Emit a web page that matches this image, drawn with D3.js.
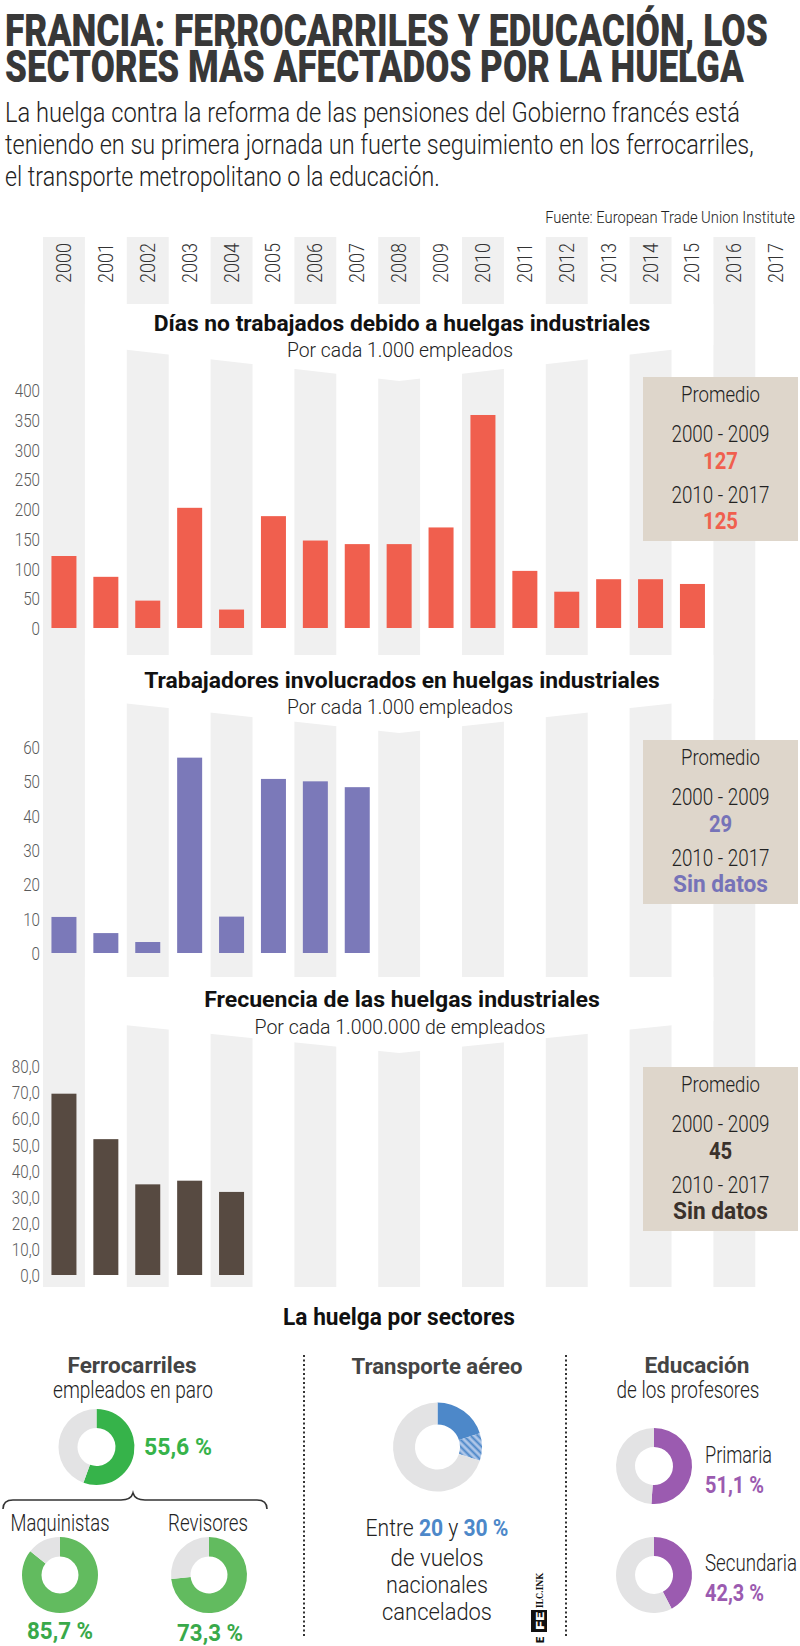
<!DOCTYPE html>
<html><head><meta charset="utf-8">
<script src="https://cdn.jsdelivr.net/npm/d3@7"></script>
<style>
html,body{margin:0;padding:0;background:#fff;}
svg{display:block;}
</style></head>
<body>
<svg id="chart" width="800" height="1646"></svg>
<script>
// ---------- DATA ----------
const years = ["2000","2001","2002","2003","2004","2005","2006","2007","2008","2009","2010","2011","2012","2013","2014","2015","2016","2017"];
const diasNoTrabajados = [121, 86, 46, 202, 31, 188, 147, 141, 141, 169, 358, 96, 61, 82, 82, 74, null, null];
const trabajadores = [10.5, 5.8, 3.2, 56.9, 10.6, 50.7, 50.0, 48.3, null, null, null, null, null, null, null, null, null, null];
const frecuencia = [69.4, 52.0, 34.7, 36.1, 31.8, null, null, null, null, null, null, null, null, null, null, null, null, null];
const ticksDias = [0, 50, 100, 150, 200, 250, 300, 350, 400];
const ticksTrab = [0, 10, 20, 30, 40, 50, 60];
const ticksFrec = [0, 10, 20, 30, 40, 50, 60, 70, 80];
const periodos = ["2000 - 2009", "2010 - 2017"];
const promDias = ["127", "125"];
const promTrab = ["29", "Sin datos"];
const promFrec = ["45", "Sin datos"];
const ferrocarriles = 55.6, maquinistas = 85.7, revisores = 73.3;
const vuelosMin = 20, vuelosMax = 30;
const primaria = 51.1, secundaria = 42.3;

// ---------- SETUP ----------
const svg = d3.select("#chart");
const FONT = 'Roboto, "Open Sans", "Liberation Sans", sans-serif';
const defs = svg.append("defs");
const pat = defs.append("pattern").attr("id","hatch").attr("patternUnits","userSpaceOnUse")
  .attr("width",5).attr("height",5).attr("patternTransform","rotate(-45)");
pat.append("rect").attr("width",5).attr("height",5).attr("fill","#aec6e8");
pat.append("line").attr("x1",1.5).attr("y1",0).attr("x2",1.5).attr("y2",5).attr("stroke","#4d88c9").attr("stroke-width",2);

// text helper: target width reached by horizontal scaling (condensed look)
function label(g, x, y, s, o = {}) {
  const t = g.append("text")
    .attr("text-anchor", o.anchor || "middle")
    .attr("dominant-baseline", o.base || "central")
    .style("font-family", o.family || FONT)
    .style("font-size", (o.size || 20) + "px")
    .style("font-weight", o.weight || 400)
    .attr("fill", o.fill || "#222");
  if (s !== null) t.text(s);
  t.attr("transform", `translate(${x},${y})` + (o.rot ? ` rotate(${o.rot})` : "") + (o.sx ? ` scale(${o.sx},1)` : ""));
  if (o.len) fit(t, x, y, o.len, o.rot);
  return t;
}
function fit(t, x, y, len, rot) {
  const nat = t.node().getComputedTextLength();
  const sx = nat > 0 ? len / nat : 1;
  t.attr("transform", `translate(${x},${y})` + (rot ? ` rotate(${rot})` : "") + ` scale(${sx},1)`);
}

// ---------- HEADER ----------
const head = svg.append("g");
label(head, 5, 46, "FRANCIA: FERROCARRILES Y EDUCACIÓN, LOS", {anchor:"start", base:"alphabetic", size:44, weight:900, fill:"#383838", len:763});
label(head, 5, 82, "SECTORES MÁS AFECTADOS POR LA HUELGA", {anchor:"start", base:"alphabetic", size:44, weight:900, fill:"#383838", len:739});
label(head, 5, 122, "La huelga contra la reforma de las pensiones del Gobierno francés está", {anchor:"start", base:"alphabetic", size:28, weight:300, fill:"#222", len:735});
label(head, 5, 154, "teniendo en su primera jornada un fuerte seguimiento en los ferrocarriles,", {anchor:"start", base:"alphabetic", size:28, weight:300, fill:"#222", len:749});
label(head, 5, 186, "el transporte metropolitano o la educación.", {anchor:"start", base:"alphabetic", size:28, weight:300, fill:"#222", len:435});
label(head, 795, 223, "Fuente: European Trade Union Institute", {anchor:"end", base:"alphabetic", size:16.5, weight:300, fill:"#222", len:250});

// ---------- COLUMN SCALE ----------
const x = d3.scaleBand().domain(years).range([43, 43 + 18 * 41.9]).padding(0);
const bw = x.bandwidth();
const barW = 25;

// background stripes (even columns)
const bg = svg.append("g");
bg.selectAll("rect.stripe").data(years.filter((d, i) => i % 2 === 0)).join("rect")
  .attr("class","stripe").attr("x", d => x(d)).attr("y", 237).attr("width", bw).attr("height", 1287 - 237)
  .attr("fill", "#f0f0f0");

// white ribbons behind the chart titles
const rx0 = x("2001"), rx1 = x("2016"), rmid = x("2008") + bw / 2;
[{top:304, edge:345, mid:381}, {top:655, edge:699, mid:733}, {top:977, edge:1021, mid:1053}].forEach(r => {
  bg.append("path").attr("d", `M${rx0},${r.top}L${rx1},${r.top}L${rx1},${r.edge}L${rmid},${r.mid}L${rx0},${r.edge}Z`).attr("fill","#fff");
});

// year labels
const yearAxis = svg.append("g").attr("transform","translate(0,263)")
  .call(d3.axisBottom(x).tickSize(0).tickPadding(0));
yearAxis.select(".domain").remove();
yearAxis.selectAll("text")
  .attr("y", 0).attr("dy", null).attr("x", 0)
  .attr("text-anchor","middle").attr("dominant-baseline","central")
  .style("font-family", FONT).style("font-size","21px").style("font-weight",300).attr("fill","#333")
  .each(function() { fit(d3.select(this), 0, 0, 40, -90); });

// ---------- BAR CHARTS ----------
const charts = [
  {title:"Días no trabajados debido a huelgas industriales", tlen:497, ty:323,
   sub:"Por cada 1.000 empleados", slen:226, sy:350,
   values:diasNoTrabajados, ticks:ticksDias, fmt:d => String(d), max:400, y0:628, y1:390,
   color:"#f05f4e", valColor:"#f05f4e", box:377, prom:promDias},
  {title:"Trabajadores involucrados en huelgas industriales", tlen:516, ty:680,
   sub:"Por cada 1.000 empleados", slen:226, sy:707,
   values:trabajadores, ticks:ticksTrab, fmt:d => String(d), max:60, y0:953, y1:747,
   color:"#7b79b9", valColor:"#7673b8", box:740, prom:promTrab},
  {title:"Frecuencia de las huelgas industriales", tlen:396, ty:1000,
   sub:"Por cada 1.000.000 de empleados", slen:291, sy:1027,
   values:frecuencia, ticks:ticksFrec, fmt:d => d.toFixed(1).replace(".", ","), max:80, y0:1275, y1:1066,
   color:"#574a41", valColor:"#3b322c", box:1067, prom:promFrec}
];

charts.forEach(c => {
  const g = svg.append("g");
  label(g, 402, c.ty, c.title, {size:22, weight:700, fill:"#111", len:c.tlen});
  label(g, 400, c.sy, c.sub, {size:20, weight:300, fill:"#222", len:c.slen});

  const y = d3.scaleLinear().domain([0, c.max]).range([c.y0, c.y1]);
  const ax = g.append("g").attr("transform","translate(40,0)")
    .call(d3.axisLeft(y).tickValues(c.ticks).tickFormat(c.fmt).tickSize(0).tickPadding(0));
  ax.select(".domain").remove();
  ax.selectAll("text").attr("x", 0).attr("dy", null)
    .attr("dominant-baseline","central").attr("text-anchor","end")
    .attr("transform","scale(0.8,1)")
    .style("font-family", FONT).style("font-size","19px").style("font-weight",300).attr("fill","#5a5a5a");

  const pts = years.map((yr, i) => ({yr, v: c.values[i]})).filter(d => d.v !== null);
  g.selectAll("rect.bar").data(pts).join("rect").attr("class","bar")
    .attr("x", d => x(d.yr) + (bw - barW) / 2).attr("width", barW)
    .attr("y", d => y(d.v)).attr("height", d => y(0) - y(d.v))
    .attr("fill", c.color);

  // Promedio box
  const bx = 643, bwid = 155, cx = bx + bwid / 2;
  g.append("rect").attr("x", bx).attr("y", c.box).attr("width", bwid).attr("height", 164).attr("fill","#ded6cb");
  label(g, cx, c.box + 17, "Promedio", {size:22, weight:300, fill:"#222", len:79});
  label(g, cx, c.box + 57, periodos[0], {size:23, weight:300, fill:"#222", len:98});
  label(g, cx, c.box + 84, c.prom[0], {size:23, weight:700, fill:c.valColor, sx:0.88});
  label(g, cx, c.box + 118, periodos[1], {size:23, weight:300, fill:"#222", len:98});
  const p2 = c.prom[1];
  label(g, cx, c.box + 144, p2, p2.length > 4 ? {size:23, weight:700, fill:c.valColor, len:95} : {size:23, weight:700, fill:c.valColor, sx:0.88});
});

// ---------- SECTORES ----------
const sec = svg.append("g");
label(sec, 399, 1317, "La huelga por sectores", {size:23, weight:700, fill:"#111", len:232});

// dotted separators
[304, 566].forEach(xx => sec.append("line").attr("x1", xx).attr("x2", xx).attr("y1", 1355).attr("y2", 1637)
  .attr("stroke","#333").attr("stroke-width",2).attr("stroke-dasharray","2,2.5"));

function donut(cx, cy, pct, color, r0, r1) {
  const arc = d3.arc().innerRadius(r0).outerRadius(r1);
  const pie = d3.pie().sort(null).value(d => d.v);
  const arcs = pie([{v: pct, c: color}, {v: 100 - pct, c: "#e3e3e4"}]);
  sec.append("g").attr("transform", `translate(${cx},${cy})`)
    .selectAll("path").data(arcs).join("path").attr("d", arc).attr("fill", d => d.data.c);
}

// Ferrocarriles
label(sec, 132, 1365, "Ferrocarriles", {size:22, weight:700, fill:"#444", len:129});
label(sec, 133, 1390, "empleados en paro", {size:23, weight:300, fill:"#222", len:160});
donut(96.5, 1447, ferrocarriles, "#36b34a", 19, 38);
label(sec, 144, 1448, "55,6 %", {anchor:"start", size:23, weight:700, fill:"#36b34a", len:68});
sec.append("path")
  .attr("d", "M3,1509 Q3,1500 13,1500 L121,1500 Q131,1500 133,1493 Q135,1500 145,1500 L257,1500 Q267,1500 267,1509")
  .attr("fill","none").attr("stroke","#333").attr("stroke-width",1.6);
label(sec, 60, 1523, "Maquinistas", {size:23, weight:300, fill:"#222", len:99});
label(sec, 208, 1523, "Revisores", {size:23, weight:300, fill:"#222", len:80});
donut(60, 1575, maquinistas, "#62bb5f", 18.5, 38);
donut(209, 1575, revisores, "#62bb5f", 18.5, 38);
label(sec, 60, 1631, "85,7 %", {size:23, weight:700, fill:"#39a94a", len:66});
label(sec, 210, 1633, "73,3 %", {size:23, weight:700, fill:"#39a94a", len:66});

// Transporte aéreo
label(sec, 437, 1367, "Transporte aéreo", {size:22, weight:700, fill:"#444", len:171});
{
  const arc = d3.arc().innerRadius(22.5).outerRadius(44.5);
  const pie = d3.pie().sort(null).value(d => d.v);
  const arcs = pie([{v: vuelosMin, f: "#4d88c9"}, {v: vuelosMax - vuelosMin, f: "url(#hatch)"}, {v: 100 - vuelosMax, f: "#e3e3e4"}]);
  sec.append("g").attr("transform","translate(437.5,1447)")
    .selectAll("path").data(arcs).join("path").attr("d", arc).attr("fill", d => d.data.f);
}
{
  const t = label(sec, 437, 1528, null, {size:23, weight:300, fill:"#222"});
  t.append("tspan").text("Entre ");
  t.append("tspan").text(String(vuelosMin)).style("font-weight",700).attr("fill","#4d88c9");
  t.append("tspan").text(" y ");
  t.append("tspan").text(vuelosMax + " %").style("font-weight",700).attr("fill","#4d88c9");
  fit(t, 437, 1528, 143);
}
label(sec, 437, 1558, "de vuelos", {size:23, weight:300, fill:"#222", len:93});
label(sec, 437, 1585, "nacionales", {size:23, weight:300, fill:"#222", len:102});
label(sec, 437, 1612, "cancelados", {size:23, weight:300, fill:"#222", len:110});

// EFE logo (rotated)
{
  const lg = sec.append("g").attr("transform","translate(547,1645) rotate(-90)");
  lg.append("text").attr("x",2).attr("y",-3).text("E").style("font-family",FONT).style("font-size","11px").style("font-weight",900).attr("fill","#111");
  lg.append("rect").attr("x",13).attr("y",-16).attr("width",22).attr("height",16).attr("fill","#111");
  const fe = lg.append("text").text("FE").style("font-family",FONT).style("font-size","11px").style("font-weight",900).attr("fill","#fff");
  fe.attr("transform", `translate(15,-3) scale(${18 / fe.node().getComputedTextLength()},1)`);
  const ink = lg.append("text").text("ILC.INK").style("font-family",'"DejaVu Serif", serif').style("font-size","9px").style("font-weight",700).attr("fill","#111");
  ink.attr("transform", `translate(37,-4) scale(${35 / ink.node().getComputedTextLength()},1)`);
}

// Educación
label(sec, 697, 1365, "Educación", {size:22, weight:700, fill:"#444", len:105});
label(sec, 688, 1390, "de los profesores", {size:23, weight:300, fill:"#222", len:143});
donut(654, 1466, primaria, "#9b5bb0", 19, 38);
donut(654, 1575, secundaria, "#9b5bb0", 19, 38);
label(sec, 705, 1455, "Primaria", {anchor:"start", size:23, weight:300, fill:"#222", len:67});
label(sec, 705, 1485, "51,1 %", {anchor:"start", size:23, weight:700, fill:"#9b5bb0", len:59});
label(sec, 705, 1563, "Secundaria", {anchor:"start", size:23, weight:300, fill:"#222", len:92});
label(sec, 705, 1593, "42,3 %", {anchor:"start", size:23, weight:700, fill:"#9b5bb0", len:59});
</script>
</body></html>
